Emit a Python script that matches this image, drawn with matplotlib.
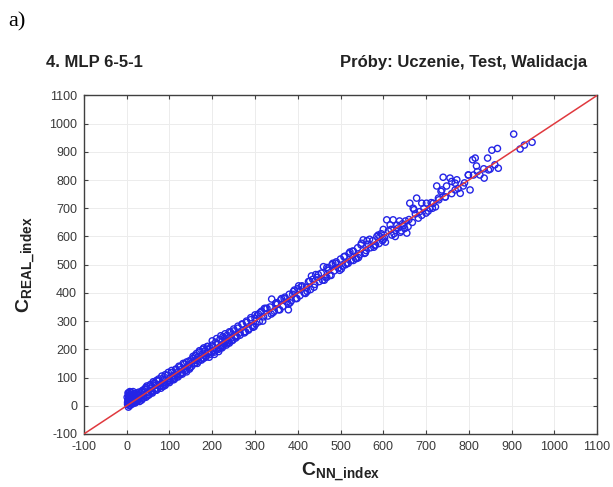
import numpy as np
import matplotlib
matplotlib.use("Agg")
import matplotlib.pyplot as plt

plt.rcParams['font.family'] = ['Liberation Sans', 'DejaVu Sans']
plt.rcParams['mathtext.fontset'] = 'custom'
plt.rcParams['mathtext.rm'] = 'Liberation Sans:bold'
plt.rcParams['mathtext.it'] = 'Liberation Sans:bold'
plt.rcParams['mathtext.bf'] = 'Liberation Sans:bold'
plt.rcParams['axes.unicode_minus'] = False

# C_NN_index (predicted) vs C_REAL_index
nn_low = [2, 3, 4, 5, 5, 6, 7, 8, 8, 9, 10, 10, 11, 12, 13, 14, 15, 15, 16, 17,
          18, 19, 20, 21, 22, 23, 24, 25, 26, 27, 28, 29, 30, 4, 7, 12, 18, 24, 3, 9,
          1, 2, 3, 4, 6, 7, 8, 9, 11, 13]
real_low = [5, 20, 35, 10, 45, 28, 2, 15, 40, 30, 8, 48, 22, 18, 38, 12, 25, 50, 30, 20,
            42, 15, 28, 35, 18, 45, 25, 38, 30, 22, 48, 35, 30, -5, 0, 5, 10, 15, 12, 25,
            30, 12, 45, 22, 38, 50, 25, 8, 35, 28]

nn_b = [32, 35, 38, 40, 42, 45, 47, 50, 52, 55, 57, 60, 62, 65, 67, 70, 72, 75, 77, 80,
        82, 85, 87, 90, 92, 95, 97, 100, 102, 105, 107, 110, 112, 115, 117, 120, 122, 125,
        127, 130, 132, 135, 137, 140, 142, 145, 147, 150, 55, 85,
        20, 25, 30, 35, 40, 45, 50, 55, 60, 65, 70, 75, 80, 85, 90, 95, 100, 105, 110, 115,
        120, 125, 130, 135, 140, 145, 36, 48, 58, 68, 78, 88, 98, 108, 118, 128, 138, 148,
        44, 64]
real_b = [45, 20, 55, 35, 60, 30, 70, 48, 38, 75, 52, 45, 85, 58, 72, 90, 60, 95, 70, 78,
          105, 68, 92, 110, 80, 85, 118, 96, 88, 125, 100, 108, 95, 130, 112, 120, 140, 110,
          128, 118, 150, 132, 125, 155, 138, 145, 130, 162, 62, 80,
          10, 40, 15, 52, 28, 65, 40, 70, 50, 82, 55, 88, 62, 98, 72, 108, 82, 118, 92, 128,
          102, 138, 112, 148, 120, 158, 25, 35, 48, 55, 68, 75, 88, 95, 105, 115, 125, 135,
          58, 78]

nn_c = [152, 155, 158, 160, 163, 165, 168, 170, 173, 175, 178, 180, 183, 185, 188, 190,
        193, 195, 198, 200, 203, 205, 208, 210, 213, 215, 218, 220, 223, 225, 228, 230,
        233, 235, 238, 240, 243, 245, 248, 250, 255, 260, 265, 270, 275, 280, 285, 290,
        295, 300,
        155, 160, 165, 170, 175, 180, 185, 190, 195, 200, 205, 210, 215, 220, 225, 230,
        235, 240, 245, 250, 255, 260, 265, 270, 275, 280, 285, 290, 295, 300, 158, 178,
        198, 218, 238, 258, 278, 298, 188, 228]
real_c = [140, 175, 160, 150, 185, 170, 158, 190, 165, 180, 200, 168, 195, 178, 210, 185,
          172, 205, 190, 215, 195, 182, 225, 200, 220, 192, 235, 210, 205, 245, 218, 228,
          215, 250, 230, 222, 260, 240, 232, 265, 248, 275, 258, 290, 262, 295, 272, 305,
          285, 310,
          168, 178, 150, 195, 162, 205, 172, 210, 182, 230, 190, 238, 200, 248, 210, 255,
          222, 262, 230, 272, 240, 282, 250, 288, 258, 300, 268, 312, 278, 322, 150, 168,
          188, 205, 225, 245, 262, 280, 200, 240]

nn_d = [305, 310, 315, 320, 325, 330, 335, 339, 345, 350, 355, 360, 365, 370, 375, 378,
        380, 385, 390, 395, 400, 405, 410, 415, 420, 425, 430, 435, 440, 445, 450, 312,
        352, 392, 432,
        302, 308, 318, 328, 338, 348, 358, 368, 378, 388, 398, 408, 418, 428, 438, 448,
        322, 342, 362, 382, 402, 422, 442]
real_d = [320, 298, 335, 315, 345, 318, 350, 378, 335, 365, 340, 375, 352, 385, 368, 340,
          395, 372, 405, 380, 415, 390, 425, 400, 418, 440, 412, 448, 430, 455, 440, 330,
          360, 410, 460,
          290, 325, 300, 345, 325, 362, 340, 380, 360, 395, 380, 422, 398, 442, 420, 465,
          345, 330, 380, 365, 425, 405, 465]

nn_e = [455, 460, 465, 470, 475, 480, 485, 490, 495, 500, 505, 510, 515, 520, 525, 530,
        535, 540, 545, 549, 553, 560, 565, 570, 575, 580, 585, 590, 595, 600,
        458, 468, 478, 488, 498, 508, 518, 528, 538, 548, 558, 568, 578, 588, 598,
        462, 482, 502, 522, 542, 562, 582, 468, 512, 556, 472, 530]
real_e = [470, 493, 455, 485, 462, 500, 478, 510, 488, 520, 495, 530, 505, 540, 515, 548,
          522, 560, 535, 576, 588, 550, 572, 560, 585, 568, 600, 575, 610, 590,
          445, 490, 462, 505, 480, 528, 505, 548, 522, 570, 542, 590, 562, 605, 585,
          445, 505, 485, 545, 525, 585, 570, 455, 500, 540, 480, 515]

nn_f = [592, 600, 608, 616, 623, 628, 635, 640, 645, 650, 655, 662, 670, 678, 690, 701,
        709, 717, 729, 605, 625, 648, 660, 685, 700, 715,
        603, 612, 620, 632, 642, 652, 668, 675, 682, 695, 705, 712, 722, 735, 745, 690,
        672, 658, 638, 618]
real_f = [600, 625, 659, 641, 659, 600, 630, 615, 645, 628, 612, 718, 700, 736, 718, 718,
          700, 718, 736, 580, 610, 640, 660, 688, 683, 700,
          595, 620, 605, 640, 620, 655, 650, 680, 665, 700, 690, 720, 705, 760, 740, 675,
          695, 635, 655, 625]

nn_g = [725, 737, 748, 768, 780, 787, 799, 803, 740, 756, 772, 760, 768, 799, 811, 826,
        836, 846, 850, 861, 869, 809, 815, 818, 844, 854, 867, 905, 920, 930, 948, 730,
        745, 760, 775, 790, 820, 835]
real_g = [779, 765, 779, 765, 753, 779, 818, 765, 810, 807, 801, 795, 789, 818, 818, 818,
          807, 836, 839, 854, 842, 872, 878, 850, 878, 906, 912, 963, 910, 924, 934, 730,
          740, 752, 770, 790, 830, 840]

c_nn = np.array(nn_low + nn_b + nn_c + nn_d + nn_e + nn_f + nn_g)
c_real = np.array(real_low + real_b + real_c + real_d + real_e + real_f + real_g)

ticks = list(range(-100, 1101, 100))

fig = plt.figure(figsize=(6.13, 4.87), dpi=100)
ax = fig.add_axes([0.137, 0.109, 0.837, 0.695])

ax.scatter(c_nn, c_real, s=20, facecolors='none', edgecolors='#2424e6',
           linewidths=1.0, zorder=2)
ax.plot([-100, 1100], [-100, 1100], color='#e0393e', lw=1.1, zorder=3)

ax.set_xlim(-100, 1100)
ax.set_ylim(-100, 1100)
ax.set_xticks(ticks)
ax.set_yticks(ticks)
ax.grid(True, color='#ececec', lw=0.7)
ax.set_axisbelow(True)
ax.tick_params(direction='in', length=3, width=0.8, top=True, right=True,
               labelsize=9, labelcolor='#3a3a3a', color='#404040', pad=5)
for sp in ax.spines.values():
    sp.set_color('#404040')
    sp.set_linewidth(1.0)

ax.set_xlabel(r'$\mathrm{C}_{\mathrm{NN\_index}}$', fontsize=14, color='#222222', labelpad=6)
ax.set_ylabel(r'$\mathrm{C}_{\mathrm{REAL\_index}}$', fontsize=14, color='#222222', labelpad=8)

fig.text(0.013, 0.955, 'a)', family='Liberation Serif', fontsize=16, va='center', ha='left')
fig.text(0.075, 0.872, '4. MLP 6-5-1', fontsize=12, fontweight='bold', color='#222222',
         va='center', ha='left')
fig.text(0.958, 0.872, 'Próby: Uczenie, Test, Walidacja', fontsize=12, fontweight='bold',
         color='#222222', va='center', ha='right')

fig.savefig('out.png', dpi=100)
